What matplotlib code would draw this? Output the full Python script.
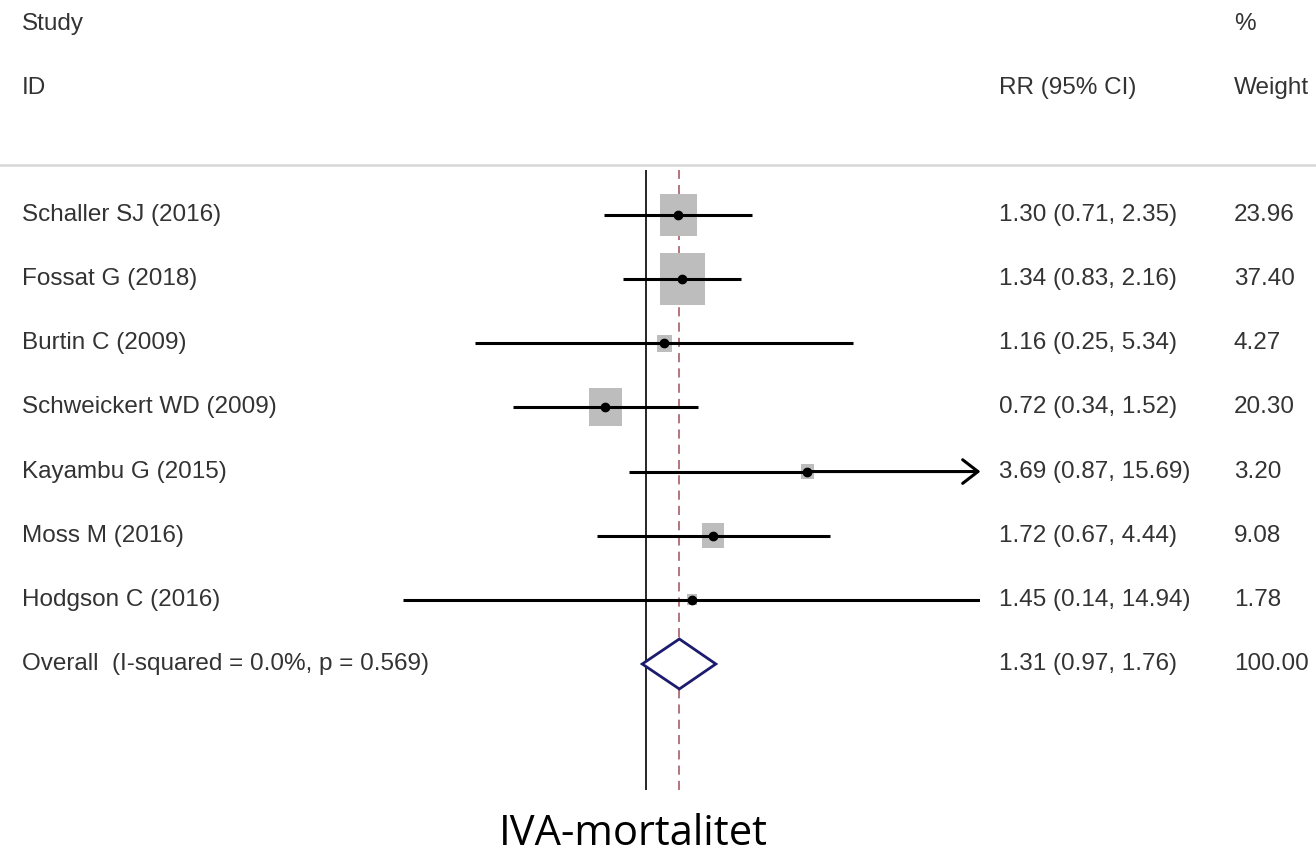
import matplotlib
matplotlib.use('Agg')
import matplotlib.pyplot as plt
from matplotlib.patches import Rectangle, Polygon
import numpy as np

studies = ['Schaller SJ (2016)', 'Fossat G (2018)', 'Burtin C (2009)',
           'Schweickert WD (2009)', 'Kayambu G (2015)', 'Moss M (2016)',
           'Hodgson C (2016)']
rr = [1.30, 1.34, 1.16, 0.72, 3.69, 1.72, 1.45]
lo = [0.71, 0.83, 0.25, 0.34, 0.87, 0.67, 0.14]
hi = [2.35, 2.16, 5.34, 1.52, 15.69, 4.44, 14.94]
weight = [23.96, 37.40, 4.27, 20.30, 3.20, 9.08, 1.78]

overall_label = 'Overall  (I-squared = 0.0%, p = 0.569)'
overall = [1.31, 0.97, 1.76]
overall_weight = 100.00

W, H = 1316, 855
fig = plt.figure(figsize=(W / 100, H / 100), dpi=100)
plt.rcParams['font.family'] = ['Liberation Sans', 'DejaVu Sans']
txt_col = '#333333'
fs = 17.5

# plot panel, laid out in pixels
x_lim = (1 / 15.0, 15.0)
px_per_ln = 123.5
x1_px = 646
left_px = x1_px + np.log(x_lim[0]) * px_per_ln
right_px = x1_px + np.log(x_lim[1]) * px_per_ln
top_px, bot_px = 170, 790
row0_px, row_gap = 215, 64.14

ax = fig.add_axes([left_px / W, 1 - bot_px / H, (right_px - left_px) / W, (bot_px - top_px) / H])
ax.set_xscale('log')
ax.set_xlim(*x_lim)
ax.set_ylim((bot_px - row0_px) / row_gap, (top_px - row0_px) / row_gap)
ax.axis('off')

ax.axvline(1, color='black', lw=1.2)
ax.axvline(overall[0], color='#a0505a', lw=1.1, ls=(0, (6, 4)))


def px_to_ln(p):
    return p / px_per_ln


for i in range(len(studies)):
    y = i
    if hi[i] > x_lim[1]:
        # CI runs off the scale: draw an arrow to the edge
        ax.plot([lo[i], rr[i]], [y, y], color='black', lw=2.2, solid_capstyle='butt', zorder=3)
        ax.annotate('', xy=(x_lim[1], y), xytext=(rr[i], y), annotation_clip=False,
                    arrowprops=dict(arrowstyle='->,head_length=1.1,head_width=0.85',
                                    lw=2.2, color='black', shrinkA=0, shrinkB=0), zorder=3)
    else:
        ax.plot([lo[i], hi[i]], [y, y], color='black', lw=2.2, solid_capstyle='butt', zorder=3)
    bw = 7.4 * np.sqrt(weight[i])
    bh = 8.4 * np.sqrt(weight[i])
    half = px_to_ln(bw / 2)
    x0 = rr[i] * np.exp(-half)
    x1 = rr[i] * np.exp(half)
    ax.add_patch(Rectangle((x0, y - bh / 2 / row_gap), x1 - x0, bh / row_gap,
                           facecolor='#bdbdbd', edgecolor='none', zorder=2))
    ax.plot(rr[i], y, 'o', color='black', ms=6, zorder=4)

# overall diamond
yo = len(studies)
dh = 25 / row_gap
ax.add_patch(Polygon([(overall[1], yo), (overall[0], yo - dh), (overall[2], yo), (overall[0], yo + dh)],
                     closed=True, facecolor='white', edgecolor='#1c1c6e', lw=2, zorder=3))


# text columns
def ypx(p):
    return 1 - p / H


fig.text(22 / W, ypx(24), 'Study', fontsize=fs, color=txt_col, va='center')
fig.text(22 / W, ypx(88), 'ID', fontsize=fs, color=txt_col, va='center')
fig.text(999 / W, ypx(88), 'RR (95% CI)', fontsize=fs, color=txt_col, va='center')
fig.text(1234 / W, ypx(24), '%', fontsize=fs, color=txt_col, va='center')
fig.text(1234 / W, ypx(88), 'Weight', fontsize=fs, color=txt_col, va='center')

rows = studies + [overall_label]
rr_txt = ['%.2f (%.2f, %.2f)' % (rr[i], lo[i], hi[i]) for i in range(len(studies))]
rr_txt.append('%.2f (%.2f, %.2f)' % tuple(overall))
w_txt = ['%.2f' % w for w in weight] + ['%.2f' % overall_weight]
for i in range(len(rows)):
    yp = row0_px + i * row_gap
    fig.text(22 / W, ypx(yp), rows[i], fontsize=fs, color=txt_col, va='center')
    fig.text(999 / W, ypx(yp), rr_txt[i], fontsize=fs, color=txt_col, va='center')
    fig.text(1234 / W, ypx(yp), w_txt[i], fontsize=fs, color=txt_col, va='center')

# header rule
fig.add_artist(plt.Line2D([0, 1], [ypx(165), ypx(165)], color='#d6d6d6', lw=1.8))

fig.text(633 / W, ypx(845), 'IVA-mortalitet', fontsize=30, color='black',
         ha='center', va='baseline', family=['Open Sans', 'DejaVu Sans'])

plt.savefig('out.png', dpi=100)
plt.close()
